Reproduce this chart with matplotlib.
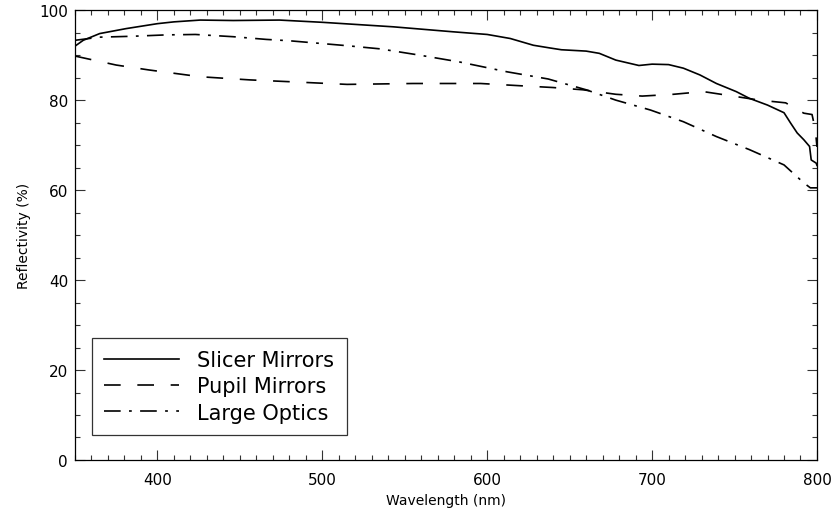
import numpy as np
import matplotlib
matplotlib.use("Agg")
import matplotlib.pyplot as plt
from matplotlib.ticker import MultipleLocator

plt.rcParams['font.family'] = ['DejaVu Sans']
plt.rcParams['lines.scale_dashes'] = False

# Measured reflectivity curves (wavelength in nm, reflectivity in %)
slicer_wl = [350, 355, 365, 381, 400, 410, 426, 446, 474, 500, 543, 579, 600, 614,
             628, 638, 645, 660, 668, 678, 692, 700, 710, 719, 729, 739, 751, 759,
             770, 780, 784, 788, 792, 795.5, 796.5, 799.5, 800]
slicer_r = [92.0, 93.3, 94.8, 95.9, 97.0, 97.4, 97.8, 97.7, 97.8, 97.3, 96.3, 95.2, 94.6, 93.7,
            92.2, 91.6, 91.2, 90.9, 90.4, 88.9, 87.7, 88.0, 87.9, 87.1, 85.6, 83.7, 81.9, 80.4,
            78.9, 77.2, 74.9, 72.7, 71.2, 69.7, 66.7, 66.0, 65.5]

pupil_wl = [350, 375, 395, 426, 456, 480, 515, 555, 596, 620, 640, 658, 678, 694,
            713, 731, 749, 765, 781, 792, 797, 799, 800]
pupil_r = [89.8, 87.8, 86.7, 85.2, 84.5, 84.1, 83.5, 83.7, 83.7, 83.2, 82.8, 82.3, 81.3, 80.9,
           81.3, 81.9, 80.9, 80.0, 79.4, 77.1, 76.8, 73.4, 69.6]

large_wl = [350, 365, 385, 405, 423, 446, 466, 480, 515, 535, 559, 583, 612, 637,
            660, 678, 699, 719, 739, 759, 780, 792, 796, 800]
large_r = [93.3, 94.0, 94.2, 94.5, 94.6, 94.1, 93.5, 93.2, 92.1, 91.4, 90.0, 88.5, 86.3, 84.7,
           82.3, 80.0, 77.8, 75.2, 71.9, 69.0, 65.6, 61.6, 60.5, 60.5]

fig = plt.figure(figsize=(8.34, 5.10), dpi=100)
ax = fig.add_axes([0.0899, 0.0961, 0.8897, 0.882])

ax.plot(slicer_wl, slicer_r, color='black', lw=1.2, ls='-', label='Slicer Mirrors')
ax.plot(pupil_wl, pupil_r, color='black', lw=1.2, ls=(0, (12, 12)), label='Pupil Mirrors')
ax.plot(large_wl, large_r, color='black', lw=1.2, ls=(0, (12, 6, 2, 6)), label='Large Optics')

ax.set_xlim(350, 800)
ax.set_ylim(0, 100)
ax.xaxis.set_major_locator(MultipleLocator(100))
ax.xaxis.set_minor_locator(MultipleLocator(10))
ax.yaxis.set_major_locator(MultipleLocator(20))
ax.yaxis.set_minor_locator(MultipleLocator(5))
ax.tick_params(which='both', direction='in', top=True, right=True, colors='#333333',
               labelcolor='black', width=0.8)
ax.tick_params(which='major', length=7.2, labelsize=11)
ax.tick_params(which='minor', length=3.6)
ax.tick_params(axis='x', which='major', pad=9)
ax.tick_params(axis='y', which='major', pad=5)
for s in ax.spines.values():
    s.set_linewidth(0.9)

ax.set_xlabel('Wavelength (nm)', fontsize=10, labelpad=4)
ax.set_ylabel('Reflectivity (%)', fontsize=10, labelpad=6)

leg = ax.legend(loc='lower left', bbox_to_anchor=(0.0229, 0.055), fontsize=15,
                frameon=True, fancybox=False, edgecolor='black', handlelength=3.6,
                handletextpad=0.85, labelspacing=0.3, borderpad=0.6, borderaxespad=0)
leg.get_frame().set_linewidth(0.9)

fig.savefig('out.png', dpi=100)
